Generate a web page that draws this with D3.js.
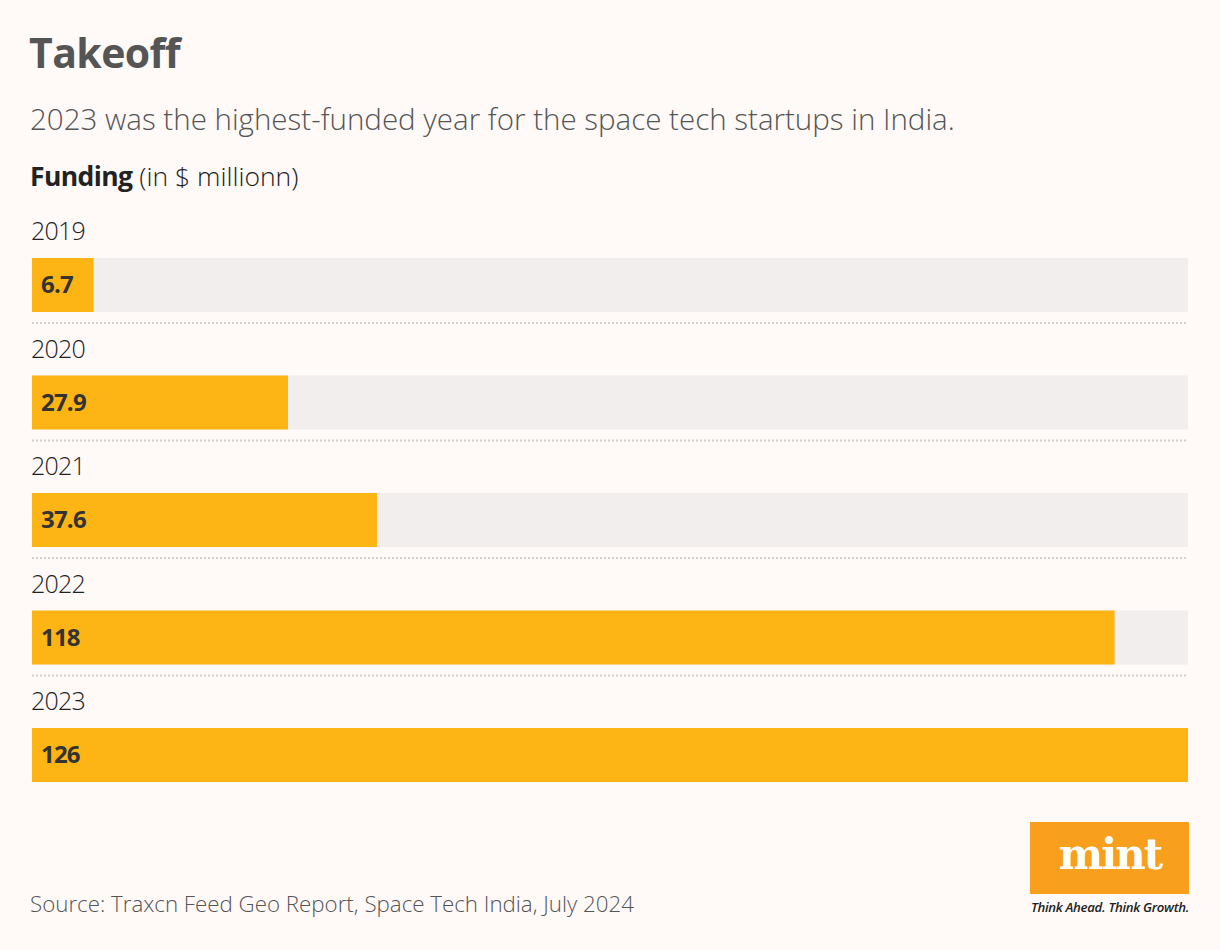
<!DOCTYPE html>
<html><head><meta charset="utf-8">
<script src="https://cdn.jsdelivr.net/npm/d3@7"></script>
<style>
body{margin:0;background:#FFF9F8;}
svg{display:block;}
</style></head>
<body>
<script>
const years = ["2019","2020","2021","2022","2023"];
const funding = [6.7, 27.9, 37.6, 118, 126];
const valueLabels = ["6.7","27.9","37.6","118","126"];

const W = 1220, H = 950;
const svg = d3.select("body").append("svg").attr("width", W).attr("height", H);
svg.append("rect").attr("width", W).attr("height", H).attr("fill", "#FFF9F8");

const font = "'Open Sans', 'Noto Sans', sans-serif";

svg.append("text").attr("x", 29).attr("y", 68).text("Takeoff")
  .attr("font-family", font).attr("font-weight", 700).attr("font-size", 41)
  .attr("fill", "#555555").attr("letter-spacing", -0.6);
svg.append("text").attr("x", 30).attr("y", 130)
  .text("2023 was the highest-funded year for the space tech startups in India.")
  .attr("font-family", font).attr("font-weight", 300).attr("font-size", 29.5)
  .attr("fill", "#555555").attr("letter-spacing", 0);
const ft = svg.append("text").attr("x", 30).attr("y", 186)
  .attr("font-family", font).attr("font-size", 26.5).attr("fill", "#222").attr("letter-spacing", 0);
ft.append("tspan").attr("font-weight", 700).attr("letter-spacing", -0.6).text("Funding");
ft.append("tspan").attr("font-weight", 300).text(" (in $ millionn)");

const x = d3.scaleLinear().domain([0, d3.max(funding)]).range([32, 1188]);
const rowTop = d3.scalePoint().domain(years).range([258, 728]);
const barH = 54;

const g = svg.append("g");
const rows = g.selectAll("g.row").data(years).join("g").attr("class", "row");

rows.append("text").attr("x", 31).attr("y", d => rowTop(d) - 18).text(d => d)
  .attr("font-family", font).attr("font-weight", 300).attr("font-size", 25)
  .attr("fill", "#222").attr("letter-spacing", -0.8);

rows.append("rect").attr("x", x(0)).attr("y", d => rowTop(d))
  .attr("width", x.range()[1] - x(0)).attr("height", barH).attr("fill", "#F2EEEE");

rows.append("rect").attr("x", x(0)).attr("y", d => rowTop(d))
  .attr("width", (d, i) => x(funding[i]) - x(0)).attr("height", barH).attr("fill", "#FDB515");

rows.append("text").attr("x", 41).attr("y", d => rowTop(d) + 35).text((d, i) => valueLabels[i])
  .attr("font-family", font).attr("font-weight", 700).attr("font-size", 24)
  .attr("fill", "#333").attr("letter-spacing", -0.8);

rows.filter((d, i) => i < years.length - 1).append("line")
  .attr("x1", 32).attr("x2", 1188)
  .attr("y1", d => rowTop(d) + 65).attr("y2", d => rowTop(d) + 65)
  .attr("stroke", "#D4D0D0").attr("stroke-width", 2).attr("stroke-dasharray", "2,2");

svg.append("text").attr("x", 30).attr("y", 912)
  .text("Source: Traxcn Feed Geo Report, Space Tech India, July 2024")
  .attr("font-family", font).attr("font-weight", 300).attr("font-size", 22.3)
  .attr("fill", "#555").attr("letter-spacing", 0);

// logo
svg.append("rect").attr("x", 1030).attr("y", 822).attr("width", 159).attr("height", 72).attr("fill", "#F89F1E");
svg.append("text").attr("x", 1110).attr("y", 869).attr("text-anchor", "middle").text("mint")
  .attr("font-family", "'DejaVu Serif', 'Liberation Serif', serif").attr("font-weight", 700)
  .attr("font-size", 42).attr("fill", "#fff").attr("letter-spacing", -2);
svg.append("text").attr("x", 1110).attr("y", 912).attr("text-anchor", "middle").text("Think Ahead. Think Growth.")
  .attr("font-family", font).attr("font-style", "italic").attr("font-weight", 600)
  .attr("font-size", 13.2).attr("fill", "#222").attr("letter-spacing", -0.3);
</script>
</body></html>
